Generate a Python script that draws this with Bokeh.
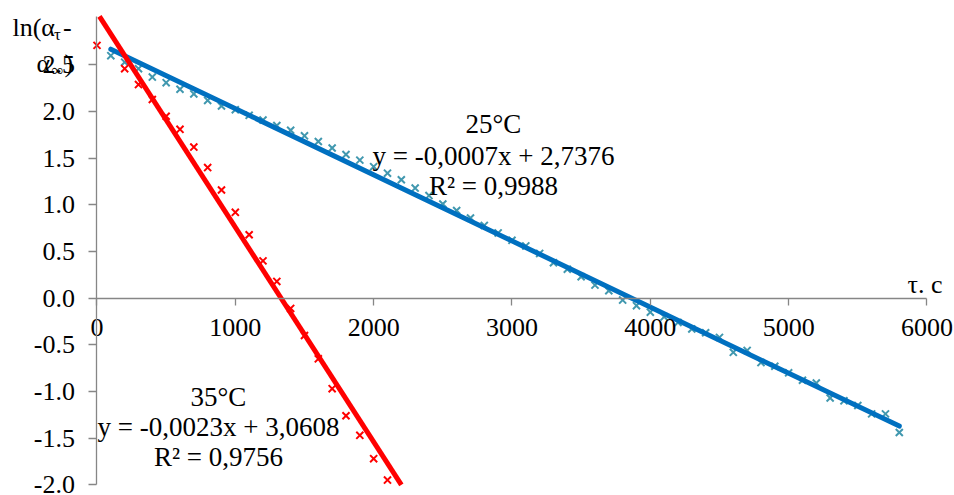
import numpy as np
from bokeh.plotting import figure
from bokeh.models import Label, FixedTicker, PrintfTickFormatter, Range1d
from bokeh.embed import file_html
from bokeh.resources import INLINE

# ---- data ----
t25 = list(range(100, 5900, 100))
y25 = [2.60, 2.53, 2.46, 2.37, 2.31, 2.24, 2.19, 2.12, 2.06, 2.02,
       1.96, 1.91, 1.85, 1.80, 1.74, 1.68, 1.61, 1.54, 1.48, 1.41,
       1.34, 1.27, 1.18, 1.10, 1.01, 0.94, 0.86, 0.78, 0.70, 0.62,
       0.56, 0.48, 0.38, 0.31, 0.23, 0.14, 0.08, -0.02, -0.08, -0.15,
       -0.20, -0.26, -0.33, -0.37, -0.42, -0.58, -0.56, -0.69, -0.73, -0.80,
       -0.88, -0.91, -1.07, -1.10, -1.15, -1.24, -1.24, -1.44]

t35 = [0, 200, 300, 400, 500, 600, 700, 800, 900, 1000, 1100, 1200, 1300,
       1400, 1500, 1600, 1700, 1800, 1900, 2000, 2100]
y35 = [2.71, 2.46, 2.29, 2.13, 1.95, 1.81, 1.62, 1.40, 1.16, 0.92, 0.68,
       0.40, 0.18, -0.11, -0.40, -0.65, -0.97, -1.26, -1.47, -1.72, -1.95]

# trend of 35°C series (its equation as shown)
r_slope, r_intercept = -0.0023, 3.0608

x_ticks = [0, 1000, 2000, 3000, 4000, 5000, 6000]
y_ticks = [-2.0, -1.5, -1.0, -0.5, 0.0, 0.5, 1.0, 1.5, 2.0, 2.5]
x_axis_bounds = (0, 6000)
y_axis_bounds = (-2.0, 3.02)

eq25 = ["25°C", "y = -0,0007x + 2,7376", "R² = 0,9988"]
eq35 = ["35°C", "y = -0,0023x + 3,0608", "R² = 0,9756"]

FONT = "Liberation Serif"
AXIS_GRAY = "#868686"
BLUE_LINE = "#0070C0"
BLUE_MARK = "#4198AF"
RED = "#FF0000"

# the frame fills the whole canvas; axes are drawn at x=0 / y=0 with bounds
p = figure(width=954, height=495,
           x_range=Range1d(-697.6, 6199), y_range=Range1d(-2.115, 3.191),
           output_backend="svg", toolbar_location=None, min_border=0)
p.outline_line_color = None
p.xgrid.visible = False
p.ygrid.visible = False
p.background_fill_color = "white"
p.border_fill_color = "white"

xa = p.xaxis[0]
ya = p.yaxis[0]
xa.fixed_location = 0
ya.fixed_location = 0
xa.bounds = x_axis_bounds
ya.bounds = y_axis_bounds
xa.ticker = FixedTicker(ticks=x_ticks)
ya.ticker = FixedTicker(ticks=y_ticks)
xa.formatter = PrintfTickFormatter(format="%d")
ya.formatter = PrintfTickFormatter(format="%.1f")
for ax in (xa, ya):
    ax.axis_line_color = AXIS_GRAY
    ax.axis_line_width = 1.3
    ax.major_tick_line_color = AXIS_GRAY
    ax.major_tick_line_width = 1.3
    ax.major_tick_in = 0
    ax.major_tick_out = 7
    ax.minor_tick_line_color = None
    ax.major_label_text_font = FONT
    ax.major_label_text_font_size = "26px"
    ax.major_label_text_color = "black"
xa.major_label_standoff = 14
ya.major_tick_out = 8
ya.major_label_standoff = 14

# markers
p.scatter(t25, y25, marker="x", size=10, line_color=BLUE_MARK, line_width=2)
p.scatter(t35, y35, marker="x", size=10, line_color=RED, line_width=2)

# trend lines
b_coef = np.polyfit(t25, y25, 1)
bx = [min(t25), max(t25)]
p.line(bx, list(np.polyval(b_coef, bx)), line_color=BLUE_LINE, line_width=5,
       line_cap="round")
# red trend runs through the plot area: clip it to the y axis extent
rx0 = max(min(t35), (y_axis_bounds[1] - r_intercept) / r_slope)
rx1 = (y_axis_bounds[0] - r_intercept) / r_slope
rx = [rx0, rx1]
p.line(rx, [r_intercept + r_slope * v for v in rx], line_color=RED, line_width=5)

# equation labels
for txt, yy in zip(eq25, [1.871, 1.528, 1.206]):
    p.add_layout(Label(x=2866, y=yy, text=txt, text_align="center",
                       text_baseline="middle", text_font=FONT,
                       text_font_size="27px", text_color="black"))
for txt, yy in zip(eq35, [-1.064, -1.386, -1.707]):
    p.add_layout(Label(x=878, y=yy, text=txt, text_align="center",
                       text_baseline="middle", text_font=FONT,
                       text_font_size="27px", text_color="black"))

# x axis title
p.add_layout(Label(x=5859, y=0.147, text="τ. c", text_align="left",
                   text_baseline="alphabetic", text_font=FONT,
                   text_font_size="26px", text_color="black"))

# y axis title  ln(α_τ - α_∞)
ytitle = [("ln(α", -611, 2.906, "26px"), ("τ", -310, 2.831, "17px"),
          ("-", -245, 2.906, "26px"), ("α", -437, 2.515, "26px"),
          ("∞", -329, 2.44, "17px"), (")", -235, 2.515, "26px")]
for txt, xx, yy, fs in ytitle:
    p.add_layout(Label(x=xx, y=yy, text=txt, text_align="left",
                       text_baseline="alphabetic", text_font=FONT,
                       text_font_size=fs, text_color="black"))

open("out.html", "w").write(file_html(p, INLINE))
